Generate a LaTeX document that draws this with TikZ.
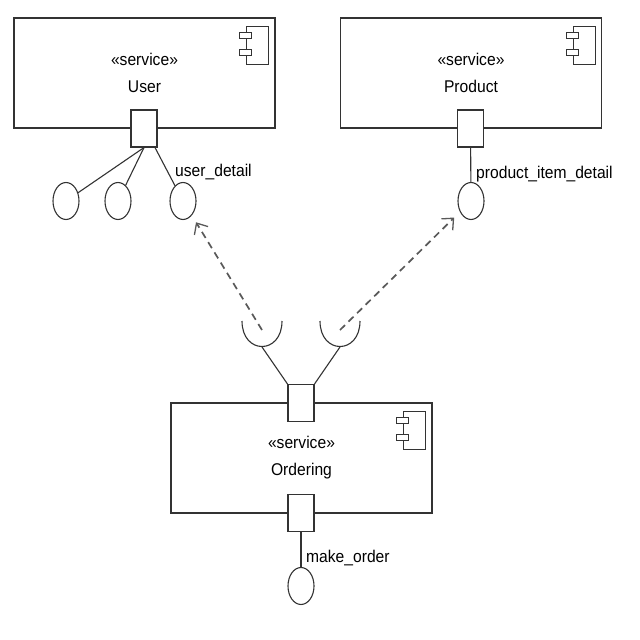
\documentclass[tikz,border=0pt]{standalone}
\usepackage{fontspec}
\setmainfont{Liberation Sans}[FakeStretch=0.92]
\usetikzlibrary{shapes.geometric,arrows.meta}
\begin{document}
\begin{tikzpicture}[x=1pt,y=-1pt,
  comp/.style={draw=black!80, line width=1.6pt, minimum width=261pt, minimum height=110pt, inner sep=0pt, align=center, font=\fontsize{17}{27}\selectfont},
  port/.style={draw=black!80, line width=1.1pt, fill=white, minimum width=26pt, minimum height=37pt, inner sep=0pt},
  lolly/.style={ellipse, draw=black!80, line width=1.1pt, fill=white, minimum width=26pt, minimum height=37pt, inner sep=0pt},
  wire/.style={draw=black!80, line width=1.1pt},
  dep/.style={draw=black!65, line width=1.7pt, dash pattern=on 7pt off 5pt, -{Straight Barb[length=9pt,width=16pt,line width=1.3pt]}, shorten >=8pt},
  lbl/.style={anchor=base west, inner sep=0pt, font=\fontsize{17}{20}\selectfont},
  icon/.pic={
    \draw[draw=black!80, line width=1pt] (-29pt,-9pt) rectangle (-7pt,-47pt);
    \draw[draw=black!80, line width=1pt, fill=white] (-36pt,-15pt) rectangle (-24pt,-21pt);
    \draw[draw=black!80, line width=1pt, fill=white] (-36pt,-32pt) rectangle (-24pt,-38pt);
  }]
\fill[white] (0,0) rectangle (640,640);
\useasboundingbox (0,0) rectangle (640,640);

% component boxes
\node[comp] (user) at (144.5,73) {«service»\\User};
\node[comp] (prod) at (471,73) {«service»\\Product};
\node[comp] (ord) at (301.5,458) {«service»\\Ordering};
\pic at (user.north east) {icon};
\pic at (prod.north east) {icon};
\pic at (ord.north east) {icon};

% ports
\node[port] (up) at (144,128.5) {};
\node[port] (pp) at (470.5,128.5) {};
\node[port] (ot) at (301,403) {};
\node[port] (ob) at (301,513) {};

% provided interfaces (lollipops)
\node[lolly] (l1) at (66,201) {};
\node[lolly] (l2) at (118,201) {};
\node[lolly] (ud) at (183,201) {};
\node[lolly] (pd) at (471,201) {};
\node[lolly] (mo) at (301,586) {};

\draw[wire] (up.south) -- (l1);
\draw[wire] (up.south) -- (l2);
\draw[wire] (up.-60) -- (ud);
\draw[wire] (pp) -- (pd);
\draw[wire] (ob) -- (mo);

% labels
\node[lbl] (udl) at (175,176) {user\_detail};
\node[lbl] (pdl) at (476,178) {product\_item\_detail};
\node[lbl] (mol) at (306,562) {make\_order};

% required interfaces (sockets)
\coordinate (sockL) at (262,347);
\coordinate (sockR) at (340,347);
\coordinate (dl) at (262,330);
\coordinate (dr) at (340,330);
\draw[wire] (242,321) .. controls (242,355) and (282,355) .. (282,321);
\draw[wire] (320,321) .. controls (320,355) and (360,355) .. (360,321);
\draw[wire] (sockL) -- (ot.north west);
\draw[wire] (sockR) -- (ot.north east);

% dependencies
\draw[dep] (dl) -- (ud);
\draw[dep] (dr) -- (pd);
\end{tikzpicture}
\end{document}
